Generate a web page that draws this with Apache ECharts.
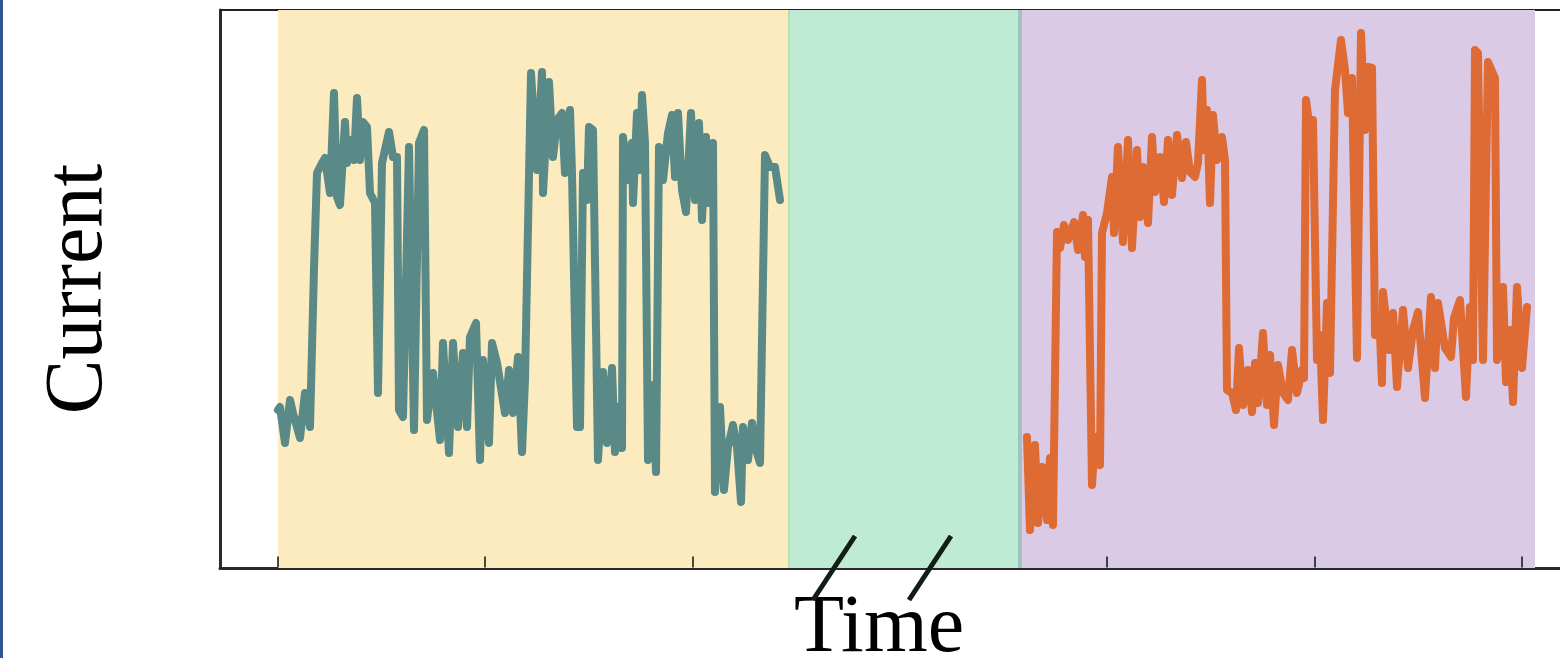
<!DOCTYPE html>
<html>
<head>
<meta charset="utf-8">
<script src="https://cdn.jsdelivr.net/npm/echarts@6/dist/echarts.min.js"></script>
<style>
html,body{margin:0;padding:0;background:#fff;}
#chart{width:1560px;height:658px;}
</style>
</head>
<body>
<div id="chart"></div>
<script>
// ---- data (time in samples, current in arbitrary units) ----
const xTicks = [0, 207, 415, 829, 1037, 1244];
const xRange = [-58, 1282];
const yRange = [0, 558];

// shaded phases: [start, end]
const phaseYellow = [0, 511];
const phaseGreen = [511, 742];
const phasePurple = [742, 1257];
// axis-break positions on the time axis
const breakTimes = [556, 652];

const tealTime = [0,2,7,12,15,22,27,32,36,39,44,47,52,56,59,62,67,69,72,76,79,82,85,89,92,97,100,104,111,115,119,121,125,131,136,141,146,149,155,162,165,171,175,180,185,189,192,198,202,205,211,214,219,227,231,235,240,244,247,253,259,264,265,271,275,279,284,287,292,294,299,302,305,309,311,315,320,325,329,334,337,340,344,345,350,354,355,359,362,364,367,370,375,378,381,385,390,394,397,400,404,408,413,417,421,424,428,430,435,437,442,446,450,455,459,463,465,470,474,479,482,487,492,497,502];
const tealCurrent = [158,161,125,168,155,130,175,141,300,395,405,410,375,475,371,363,446,405,428,408,470,408,446,441,375,365,175,405,436,411,411,158,151,421,138,425,438,148,195,128,225,115,225,141,215,141,231,245,108,208,125,225,205,155,198,155,211,116,188,495,398,496,375,486,411,448,455,395,458,395,141,141,395,368,441,438,108,196,125,200,116,161,120,431,388,425,365,455,398,473,425,108,183,96,421,388,435,453,391,455,378,356,455,368,445,348,431,365,425,76,161,78,121,143,121,66,141,108,145,115,105,413,401,401,368];

const orangeTime = [749,752,757,760,764,769,772,775,779,782,786,790,796,800,805,807,810,814,817,822,824,829,834,836,840,845,850,854,859,862,865,870,874,877,882,886,890,894,899,904,908,912,917,920,924,926,929,932,935,939,944,947,949,954,958,961,965,970,974,977,980,985,989,992,996,1000,1005,1010,1014,1019,1024,1026,1028,1032,1035,1039,1042,1045,1049,1052,1057,1063,1067,1070,1074,1079,1083,1087,1090,1094,1097,1102,1104,1105,1109,1111,1115,1119,1125,1130,1135,1140,1147,1153,1157,1160,1167,1173,1176,1182,1188,1192,1195,1197,1200,1205,1210,1217,1219,1225,1228,1232,1235,1239,1244,1249];
const orangeCurrent = [131,38,123,45,101,48,110,43,336,320,343,328,346,318,353,311,348,83,131,103,335,355,391,335,421,326,428,320,418,351,401,345,431,376,411,366,428,373,433,390,426,396,391,405,488,418,458,365,453,408,431,408,178,175,158,220,163,198,156,205,165,235,163,213,143,203,175,168,218,175,198,190,468,438,448,208,233,148,265,195,478,528,498,455,490,210,535,438,501,500,233,233,185,276,241,218,255,181,258,200,238,256,170,271,200,265,220,211,250,268,171,261,208,518,515,208,506,490,208,281,186,238,166,281,200,261];

const zip = (a, b) => a.map((v, i) => [v, b[i]]);

const chart = echarts.init(document.getElementById('chart'), null, {renderer: 'canvas'});
const serif = '"Liberation Serif", "DejaVu Serif", serif';

chart.setOption({
  animation: false,
  backgroundColor: '#ffffff',
  grid: {left: 220, right: 0, top: 10, bottom: 90, containLabel: false, outerBoundsMode: 'none'},
  xAxis: [{
    type: 'value', min: xRange[0], max: xRange[1], position: 'bottom',
    axisLine: {show: true, onZero: false, lineStyle: {color: '#2a2a2a', width: 3}},
    axisTick: {show: false},
    axisLabel: {show: false},
    splitLine: {show: false},
    name: 'Time', nameLocation: 'middle', nameGap: 20,
    nameTextStyle: {fontFamily: serif, fontSize: 82, color: '#000', padding: [0, 22, 0, 0]}
  }, {
    type: 'value', min: xRange[0], max: xRange[1], position: 'top',
    axisLine: {show: true, onZero: false, lineStyle: {color: '#222', width: 2}},
    axisTick: {show: false}, axisLabel: {show: false}, splitLine: {show: false}
  }],
  yAxis: {
    type: 'value', min: yRange[0], max: yRange[1],
    axisLine: {show: true, onZero: false, lineStyle: {color: '#2a2a2a', width: 3}},
    axisTick: {show: false}, axisLabel: {show: false}, splitLine: {show: false},
    name: 'Current', nameLocation: 'middle', nameRotate: 90, nameGap: 100,
    nameTextStyle: {fontFamily: serif, fontSize: 82, color: '#000'}
  },
  series: [{
    type: 'line', data: [], z: 1, silent: true,
    markArea: {
      silent: true,
      data: [
        [{xAxis: phaseYellow[0], itemStyle: {color: '#FDEBC0'}}, {xAxis: phaseYellow[1]}],
        [{xAxis: phaseGreen[0], itemStyle: {color: '#BFEAD3'}}, {xAxis: phaseGreen[1]}],
        [{xAxis: phasePurple[0], itemStyle: {color: '#DACAE6'}}, {xAxis: phasePurple[1]}]
      ]
    },
    markLine: {
      silent: true, symbol: 'none', label: {show: false},
      data: [
        {xAxis: phaseGreen[0], lineStyle: {color: '#B6E2A8', width: 2, type: 'solid'}},
        {xAxis: phasePurple[0], lineStyle: {color: '#9FC3BF', width: 4, type: 'solid'}}
      ]
    }
  }, {
    type: 'scatter', name: 'ticks', silent: true, z: 4, clip: false,
    data: xTicks.map(t => [t, yRange[0]]),
    symbol: 'rect', symbolSize: [2, 11], symbolOffset: [0, -6],
    itemStyle: {color: '#1a1a1a'}
  }, {
    type: 'line', name: 'A', data: zip(tealTime, tealCurrent), z: 3,
    showSymbol: false, smooth: false,
    lineStyle: {color: '#5A8A87', width: 8, cap: 'round', join: 'round'}
  }, {
    type: 'line', name: 'B', data: zip(orangeTime, orangeCurrent), z: 3,
    showSymbol: false, smooth: false,
    lineStyle: {color: '#DE6B33', width: 8, cap: 'round', join: 'round'}
  }]
});

// decorations: blue page edge and axis-break marks placed via the axis scale
const gfx = [{type: 'rect', shape: {x: 0, y: 0, width: 3, height: 658}, style: {fill: '#2F5597'}, z: 100}];
breakTimes.forEach(t => {
  const p = chart.convertToPixel({xAxisIndex: 0, yAxisIndex: 0}, [t, yRange[0]]);
  gfx.push({type: 'line', shape: {x1: p[0] + 21, y1: p[1] - 32, x2: p[0] - 21, y2: p[1] + 32},
    style: {stroke: '#0f1f16', lineWidth: 5}, z: 100});
});
chart.setOption({graphic: gfx});
</script>
</body>
</html>
